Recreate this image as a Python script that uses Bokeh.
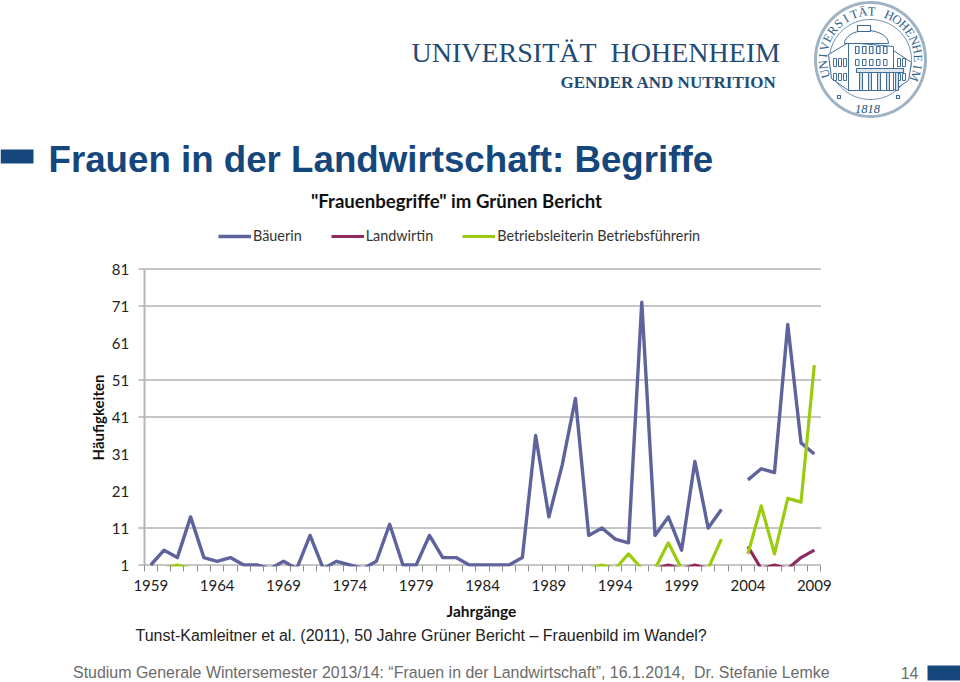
import math
import numpy as np
from bokeh.embed import file_html
from bokeh.resources import INLINE
from bokeh.plotting import figure
from bokeh.models import (FixedTicker, LinearAxis, Range1d, Label, BoxAnnotation, PolyAnnotation,
                          Legend, LegendItem, ColumnDataSource)

nan = float("nan")
years = list(range(1959, 2010))
baeuerin = [1, 5, 3, 14, 3, 2, 3, 1, 1, 0, 2, 0, 9, 0, 2, 1, 0, 2, 12, 1,
            1, 9, 3, 3, 1, 1, 1, 1, 3, 36, 14, 28, 46, 9, 11, 8, 7, 72, 9, 14,
            5, 29, 11, 16, nan, 24, 27, 26, 66, 34, 31]
landwirtin = [0] * 39 + [1, 0, 1, 0, 0, nan, 6, 0, 1, 0, 3, 5]
betrieb = [0, 0, 1] + [0] * 31 + [1, 0, 4, 0, 0, 7, 0, 0, 0, 8, nan, 4, 17, 4, 19, 18, 55]
labelled_years = [1959, 1964, 1969, 1974, 1979, 1984, 1989, 1994, 1999, 2004, 2009]
y_ticks = [1, 11, 21, 31, 41, 51, 61, 71, 81]
drawn_gridlines = [1, 11, 41, 51, 71, 81]
BLUE, PURPLE, GREEN = "#5f639c", "#8e2a5f", "#9acb0f"
NAVY = "#15477c"
LOGO = "#1f4b75"

W, H = 960, 682
PX_PER_YEAR, PX_PER_UNIT = 13.27, 3.7


def year_at(px):
    return 1959 + (px - 150.3) / PX_PER_YEAR


def value_at(py):
    return 1 + (564.5 - py) / PX_PER_UNIT


p = figure(width=W, height=H, output_backend="svg", toolbar_location=None,
           x_range=Range1d(year_at(0), year_at(W)), y_range=Range1d(value_at(H), value_at(0)),
           min_border_left=0, min_border_right=0, min_border_top=0, min_border_bottom=0,
           outline_line_color=None, background_fill_color="white", x_axis_type=None, y_axis_type=None)
p.grid.visible = False

n = len(drawn_gridlines)
p.segment(x0=[year_at(138)] * n, x1=[2009.5] * n, y0=drawn_gridlines, y1=drawn_gridlines,
          line_color="#8c8c8c", line_width=1.2)

src = ColumnDataSource(dict(x=years, a=baeuerin, b=landwirtin, c=betrieb))
r1 = p.line("x", "a", source=src, line_color=BLUE, line_width=3.4, line_join="round")
r2 = p.line("x", "b", source=src, line_color=PURPLE, line_width=3.2, line_join="round")
r3 = p.line("x", "c", source=src, line_color=GREEN, line_width=3.2, line_join="round")
# the chart's plot area ends just under the value 1: lines that fall to 0 disappear there
p.quad(left=[year_at(138)], right=[year_at(822)], top=[value_at(566)], bottom=[value_at(572)],
       fill_color="white", line_color=None)

y_ax = LinearAxis(ticker=FixedTicker(ticks=y_ticks), fixed_location=1958.5, bounds=(1, 81),
                  axis_line_color="#b5b5b5", axis_line_width=2, major_tick_line_color=None,
                  minor_tick_line_color=None, major_label_text_font="Lato",
                  major_label_text_font_size="15px", major_label_text_color="#222222",
                  major_label_standoff=15, major_tick_in=0, major_tick_out=0)
p.add_layout(y_ax, "left")

x_ax = LinearAxis(ticker=FixedTicker(ticks=labelled_years, minor_ticks=[y - 0.5 for y in years] + [2009.5]),
                  fixed_location=1, axis_line_color=None, major_tick_line_color=None,
                  major_tick_in=0, major_tick_out=0, minor_tick_in=0, minor_tick_out=6,
                  minor_tick_line_color="#8c8c8c", major_label_text_font="Lato",
                  major_label_text_font_size="15px", major_label_text_color="#222222",
                  major_label_standoff=9)
p.add_layout(x_ax, "below")

legend = Legend(items=[LegendItem(label="Bäuerin", renderers=[r1]),
                       LegendItem(label="Landwirtin", renderers=[r2]),
                       LegendItem(label="Betriebsleiterin Betriebsführerin", renderers=[r3])],
                orientation="horizontal", location=(218, H - 244), border_line_color=None,
                background_fill_alpha=0, glyph_width=33, glyph_height=10, label_standoff=2, spacing=29,
                margin=0, padding=0, label_text_font="Lato", label_text_font_size="14.4px",
                label_text_color="#333333")
p.add_layout(legend, "center")


def X(px):
    return px


def Y(py):
    return H - py


def txt(px, py, s, size, color="#000000", font="Liberation Sans", style="normal", align="left",
        base="middle", angle=0.0):
    p.add_layout(Label(x=X(px), y=Y(py), x_units="screen", y_units="screen", text=s, text_font=font,
                       text_font_size=f"{size}px", text_color=color, text_font_style=style, text_align=align,
                       text_baseline=base, angle=angle))


def box(l, r, t, b, color):
    p.add_layout(BoxAnnotation(left=X(l), right=X(r), top=Y(t), bottom=Y(b), left_units="screen",
                               right_units="screen", top_units="screen", bottom_units="screen",
                               fill_color=color, fill_alpha=1, line_color=None))


def poly(xs, ys, line="#3f6d98", fill=None, width=1.0):
    p.add_layout(PolyAnnotation(xs=[X(v) for v in xs], ys=[Y(v) for v in ys], xs_units="screen", ys_units="screen",
                                line_color=line, line_width=width, line_alpha=1,
                                fill_color=fill if fill else "white", fill_alpha=1 if fill else 0))


# slide furniture
box(0, 33, 149, 163, NAVY)
box(927, 960, 665, 680, NAVY)
txt(48, 159, "Frauen in der Landwirtschaft: Begriffe", 36.7, NAVY, style="bold")
txt(456, 200, "\"Frauenbegriffe\" im Grünen Bericht", 18.6, "#111111", font="Lato", style="bold", align="center")
txt(97, 417, "Häufigkeiten", 15, "#111111", font="Lato", style="bold", align="center", angle=math.pi / 2)
txt(481, 610, "Jahrgänge", 15.5, "#111111", font="Lato", style="bold", align="center")
txt(135, 635, "Tunst-Kamleitner et al. (2011), 50 Jahre Grüner Bericht – Frauenbild im Wandel?", 16, "#222222")
txt(72.5, 672, "Studium Generale Wintersemester 2013/14: “Frauen in der Landwirtschaft”, 16.1.2014,\u00a0 Dr. Stefanie Lemke",
    15.95, "#6b6b6b")
txt(918, 672, "14", 16, "#6b6b6b", align="right")

# logo wording
txt(411, 52, "UNIVERSITÄT\u00a0 HOHENHEIM", 28, LOGO, font="Liberation Serif")
txt(560, 82, "GENDER AND NUTRITION", 17, LOGO, font="Liberation Serif", style="bold")

# seal
CX, CY, RX, RY = 870, 59, 55, 57
SEAL = "#2f5f8c"
t = np.linspace(0, 2 * np.pi, 120)
poly(CX + RX * np.cos(t), CY + RY * np.sin(t), line="#9fb3c4", width=3)
poly(CX + 41 * np.cos(t), CY + 40 * np.sin(t), line="#6f8fae", width=1)
letters = "UNIVERSITÄT HOHENHEIM"
for i, ch in enumerate(letters):
    th = math.radians(197 - i * (217 / (len(letters) - 1)))
    txt(CX + 47.5 * math.cos(th), CY - 48 * math.sin(th), ch, 12.5, SEAL, font="Liberation Serif",
        align="center", base="middle", angle=th - math.pi / 2)
txt(867, 108, "1818", 12.5, "#24527c", font="Liberation Serif", style="italic", align="center")
# building: wings, centre block, dome, cupola, portico
poly([828, 848, 848, 831], [54, 42, 90, 78], fill="white")
poly([893, 911, 908, 893], [50, 62, 80, 90], fill="white")
poly([848, 893, 893, 848], [42, 46, 90, 90], fill="white")
t2 = np.linspace(np.pi, 2 * np.pi, 24)
poly(866 + 22 * np.cos(t2), 43 + 13 * np.sin(t2), fill="white")
poly([857, 870, 870, 857], [25, 25, 31, 31], fill="white", width=1.2)
for wx in [833, 838, 843, 897, 902]:
    poly([wx, wx + 3, wx + 3, wx], [58, 58, 66, 66])
    poly([wx, wx + 3, wx + 3, wx], [73, 73, 80, 80])
for wx in [855, 862, 869, 876, 883]:
    poly([wx, wx + 3.5, wx + 3.5, wx], [46, 46, 53, 53], width=1.2)
    poly([wx, wx + 3.5, wx + 3.5, wx], [59, 59, 65, 65])
poly([856, 903, 903, 856], [68, 68, 72, 72], fill="#dfe7ee", width=1.2)
for cx in [859, 868, 877, 886, 895]:
    poly([cx, cx + 3, cx + 3, cx], [72, 72, 90, 90], fill="#cfdbe6")
for mx in [837, 896]:
    poly([mx, mx + 3, mx + 3, mx], [95, 95, 98, 98], width=1.2)

open("out.html", "w").write(file_html(p, INLINE))
